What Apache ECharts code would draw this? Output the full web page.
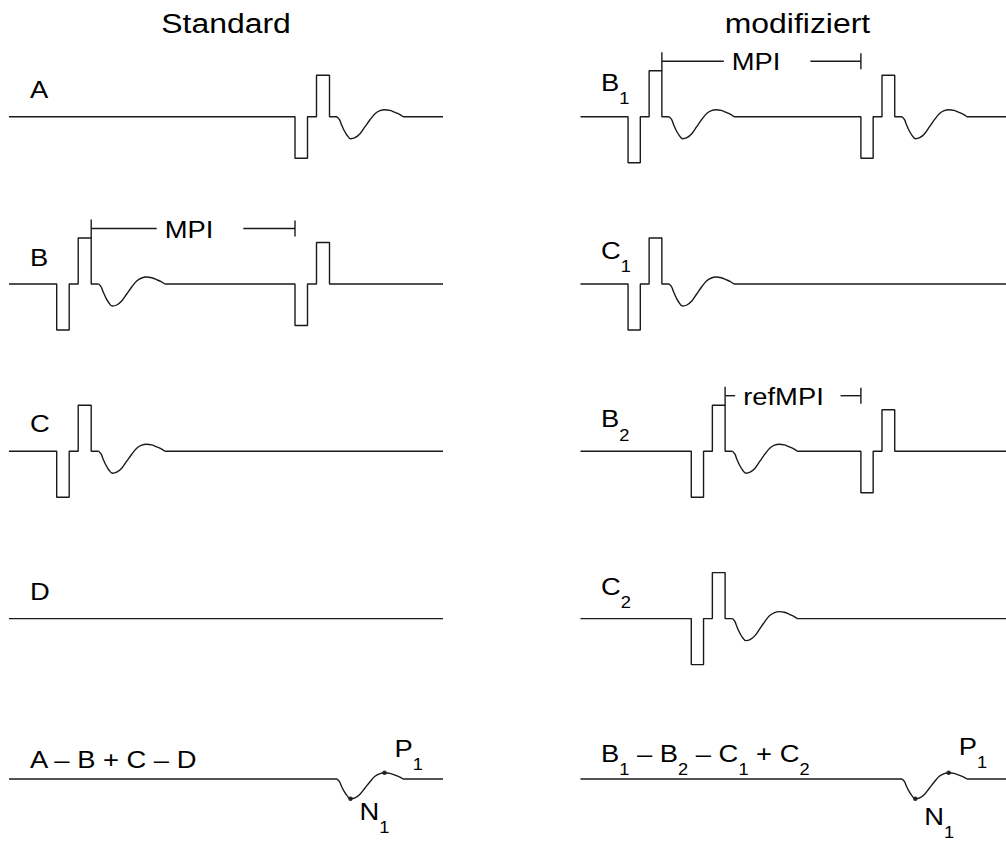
<!DOCTYPE html>
<html>
<head>
<meta charset="utf-8">
<title>MPI Standard / modifiziert</title>
<script src="https://cdn.jsdelivr.net/npm/echarts@6/dist/echarts.min.js"></script>
<style>
html,body{margin:0;padding:0;background:#ffffff;}
#chart{width:1006px;height:842px;}
</style>
</head>
<body>
<div id="chart"></div>
<script>
// ---------------- data ----------------
const panelTitles = ['Standard', 'modifiziert'];
const standardLabels = ['{m|A}', '{m|B}', '{m|C}', '{m|D}', '{m|A – B + C – D}'];
const modifiedLabels = ['{m|B}{s|1}', '{m|C}{s|1}', '{m|B}{s|2}', '{m|C}{s|2}',
  '{m|B}{s|1}{m| – B}{s|2}{m| – C}{s|1}{m| + C}{s|2}'];

const timeRange = [0, 434];     // time axis of every trace
const ampRange = [-70, 70];     // amplitude axis of every trace

// biphasic stimulus pulse: [time offset, relative amplitude]
const pulseShape = [[0, 0], [0, -1], [12.5, -1], [12.5, 0], [21.5, 0], [21.5, 1], [34.5, 1], [34.5, 0]];
const condAmp = 46;     // conditioning pulse amplitude
const testAmp = 41.5;   // test pulse amplitude

// evoked response after a pulse: [time offset, amplitude]
const responseWave = [[42, 0], [44.5, -3], [46.5, -8], [49, -13.5], [52, -18.5], [55.5, -22],
  [60, -21], [65, -17], [70, -10], [75, -3], [80, 3], [85, 6], [89.5, 7], [95, 6.3],
  [100, 4.3], [105, 2], [108, 0]];

// events per trace: [onset, pulse amplitude, response shown (1/0)]
const stdA = [[286, testAmp, 1]];
const stdB = [[47.7, condAmp, 1], [286, testAmp, 0]];
const stdC = [[47.7, condAmp, 1]];
const stdD = [];
const stdDiff = [[286, 0, 1]];
const modB1 = [[48.5, condAmp, 1], [286, testAmp, 1]];
const modC1 = [[48.5, condAmp, 1]];
const modB2 = [[113, condAmp, 1], [286, testAmp, 0]];
const modC2 = [[113, condAmp, 1]];
const modDiff = [[286, 0, 1]];

// interval brackets: [start, gap start, gap end, end]
const mpiStandard = [82.2, 147.7, 234.3, 286];
const mpiModified = [83, 146.2, 234.5, 286];
const refMpiModified = [147.5, 157.8, 265.2, 286];
const bracketLevel = 55.5;
const bracketTop = 64.5;
const tickSpan = [47.5, 63.5];

// ---------------- layout ----------------
const FONT = '"Liberation Sans", Arial, Helvetica, sans-serif';
const INK = '#1a1a1a';
const SX = 1.14;
const panelLeft = [9, 580.5];
const rowBase = [116.7, 284, 451.2, 618.6, 786];
const labelX = [30, 601];
const labelBase = [[98.3, 265.7, 432.3, 600.2, 767.6], [90.7, 258.5, 427.3, 594.5, 761.7]];

const chart = echarts.init(document.getElementById('chart'), null, {renderer: 'svg', width: 1006, height: 842});

function buildTrace(events) {
  const segs = [];
  let cur = [[timeRange[0], 0]];
  const w0 = responseWave[0][0], w1 = responseWave[responseWave.length - 1][0];
  events.forEach(([t, amp, resp]) => {
    if (amp > 0) pulseShape.forEach(([dx, dy]) => cur.push([t + dx, dy * amp]));
    if (resp) {
      cur.push([t + w0, 0]);
      segs.push({pts: cur, smooth: false});
      segs.push({pts: responseWave.map(([dx, dy]) => [t + dx, dy]), smooth: true});
      cur = [[t + w1, 0]];
    }
  });
  cur.push([timeRange[1], 0]);
  segs.push({pts: cur, smooth: false});
  return segs;
}

const panels = [[stdA, stdB, stdC, stdD, stdDiff], [modB1, modC1, modB2, modC2, modDiff]];
const grids = [], xAxes = [], yAxes = [], series = [];
const lineBase = {type: 'line', symbol: 'none', silent: true, animation: false, clip: false,
  lineStyle: {color: INK, width: 1.4}};

panels.forEach((rows, pi) => rows.forEach((ev, ri) => {
  const g = pi * 5 + ri;
  grids.push({left: panelLeft[pi], top: rowBase[ri] - 70, width: 434, height: 140});
  xAxes.push({type: 'value', gridIndex: g, min: timeRange[0], max: timeRange[1], show: false});
  yAxes.push({type: 'value', gridIndex: g, min: ampRange[0], max: ampRange[1], show: false});
  buildTrace(ev).forEach(seg => series.push(Object.assign({}, lineBase, {
    xAxisIndex: g, yAxisIndex: g, data: seg.pts, smooth: seg.smooth ? 0.35 : false
  })));
}));

// brackets
const brackets = [[1, mpiStandard, 'MPI'], [5, mpiModified, 'MPI'], [7, refMpiModified, 'refMPI']];
brackets.forEach(([g, b]) => {
  const segs = [
    [[b[0], condAmp], [b[0], bracketTop]],
    [[b[0], bracketLevel], [b[1], bracketLevel]],
    [[b[2], bracketLevel], [b[3], bracketLevel]],
    [[b[3], tickSpan[0]], [b[3], tickSpan[1]]]
  ];
  segs.forEach(d => series.push(Object.assign({}, lineBase, {xAxisIndex: g, yAxisIndex: g, data: d})));
});

// N1 / P1 points on difference traces
let trough = responseWave[0], peak = responseWave[0];
responseWave.forEach(p => { if (p[1] < trough[1]) trough = p; if (p[1] > peak[1]) peak = p; });
const diffOnset = stdDiff[0][0];
[4, 9].forEach(g => series.push({
  type: 'scatter', xAxisIndex: g, yAxisIndex: g, silent: true, animation: false,
  symbolSize: 4.5, itemStyle: {color: '#000'},
  data: [[diffOnset + trough[0], trough[1]], [diffOnset + peak[0], peak[1]]]
}));

chart.setOption({animation: false, grid: grids, xAxis: xAxes, yAxis: yAxes, series: series});

// ---------------- texts ----------------
function rich(size) {
  return {
    m: {fontSize: size, lineHeight: size, verticalAlign: 'top', fontFamily: FONT, fill: '#000'},
    s: {fontSize: 16, lineHeight: 56, verticalAlign: 'middle', fontFamily: FONT, fill: '#000'}
  };
}
function label(x, baseline, text, size, align) {
  return {type: 'text', x: x, y: baseline - (size / 2 + 0.3465 * size), scaleX: SX, silent: true,
    style: {text: text, rich: rich(size), align: align || 'left', verticalAlign: 'top', fill: '#000'}};
}
const graphic = [];
graphic.push(label(226, 33.3, '{m|' + panelTitles[0] + '}', 28, 'center'));
graphic.push(label(797.5, 33.3, '{m|' + panelTitles[1] + '}', 28, 'center'));
[standardLabels, modifiedLabels].forEach((labs, pi) => labs.forEach((t, ri) => {
  graphic.push(label(labelX[pi], labelBase[pi][ri], t, 24));
}));
brackets.forEach(([g, b, name]) => {
  const p = chart.convertToPixel({gridIndex: g}, [b[1], bracketLevel]);
  graphic.push(label(p[0] + 8, p[1] + 9.2, '{m|' + name + '}', 24));
});
const nOffY = [21, 26];
const pOffY = [-15.5, -18];
[4, 9].forEach((g, k) => {
  const n = chart.convertToPixel({gridIndex: g}, [diffOnset + trough[0], trough[1]]);
  const p = chart.convertToPixel({gridIndex: g}, [diffOnset + peak[0], peak[1]]);
  graphic.push(label(n[0] + 9, n[1] + nOffY[k], '{m|N}{s|1}', 24));
  graphic.push(label(p[0] + 10, p[1] + pOffY[k], '{m|P}{s|1}', 24));
});
chart.setOption({graphic: graphic});
</script>
</body>
</html>
